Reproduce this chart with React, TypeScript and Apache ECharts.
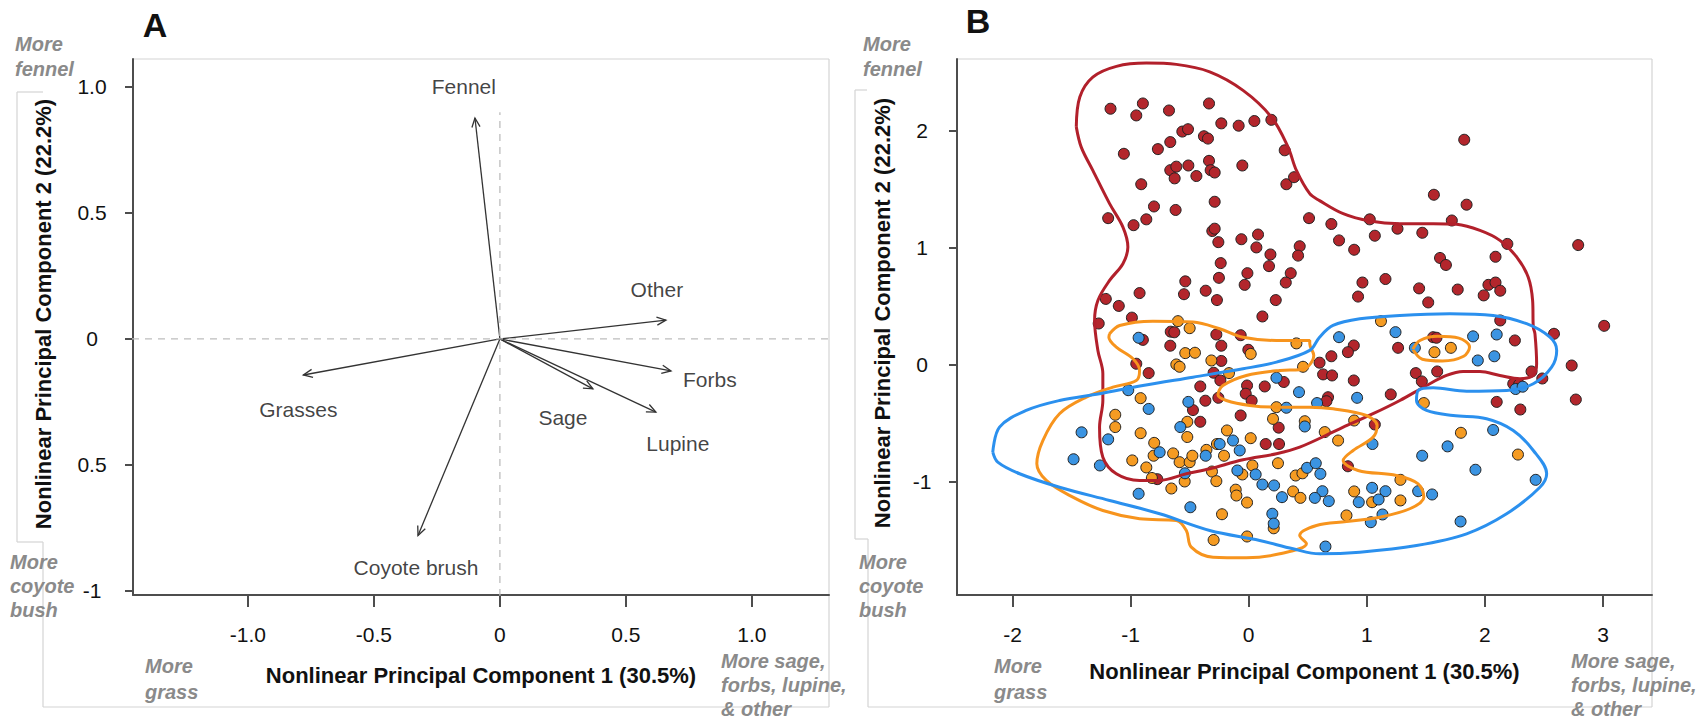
import { useEffect, useRef } from "react";
import * as echarts from "echarts";

const FONT = "'Liberation Sans', Arial, Helvetica, sans-serif";

// ---------- Panel A: loadings ----------
const loadingNames = ["Fennel", "Grasses", "Coyote brush", "Other", "Forbs", "Sage", "Lupine"];
const loadingPC1 = [-0.099, -0.78, -0.325, 0.659, 0.679, 0.369, 0.619];
const loadingPC2 = [0.877, -0.143, -0.78, 0.075, -0.127, -0.198, -0.29];
const labelPC1 = [-0.143, -0.8, -0.333, 0.623, 0.833, 0.25, 0.706];
const labelPC2 = [1.0, -0.278, -0.905, 0.198, -0.159, -0.313, -0.413];

const aXTicks = [-1, -0.5, 0, 0.5, 1];
const aXTickLabels = ["-1.0", "-0.5", "0", "0.5", "1.0"];
const aYTicks = [-1, -0.5, 0, 0.5, 1];
const aYTickLabels = ["-1", "0.5", "0", "0.5", "1.0"];

const bXTicks = [-2, -1, 0, 1, 2, 3];
const bXTickLabels = ["-2", "-1", "0", "1", "2", "3"];
const bYTicks = [-1, 0, 1, 2];
const bYTickLabels = ["-1", "0", "1", "2"];

// ---------- Panel B: site scores ----------
const redPoints: number[][] = [
  [-1.17, 2.185], [-0.896, 2.23], [-0.952, 2.128], [-0.675, 2.17], [-0.336, 2.23], [-0.232, 2.06], [-0.085, 2.04],
  [0.048, 2.08], [0.192, 2.09], [-0.562, 1.99], [-0.514, 2.01], [-0.379, 1.95], [-0.345, 1.93], [-1.057, 1.8],
  [-0.769, 1.84], [-0.664, 1.9], [0.305, 1.83], [-0.664, 1.66], [-0.613, 1.69], [-0.511, 1.7], [-0.336, 1.74],
  [-0.322, 1.66], [-0.288, 1.64], [-0.054, 1.7], [-0.627, 1.59], [-0.443, 1.61], [-0.91, 1.54], [0.319, 1.54],
  [0.384, 1.6], [-0.802, 1.35], [-0.619, 1.32], [-0.288, 1.39], [-1.19, 1.25], [-0.975, 1.19], [-0.867, 1.24],
  [0.511, 1.25], [-0.308, 1.14], [-0.288, 1.16], [-0.257, 1.045], [-0.062, 1.07], [0.079, 1.11], [0.065, 1.0],
  [0.184, 0.94], [0.172, 0.84], [0.432, 1.01], [0.418, 0.93], [-0.237, 0.866], [-0.011, 0.78], [-0.252, 0.74],
  [0.356, 0.78], [-0.537, 0.71], [-0.034, 0.68], [0.314, 0.7], [-0.548, 0.6], [-0.364, 0.63], [-0.269, 0.55],
  [-0.924, 0.61], [-1.21, 0.56], [-1.1, 0.5], [0.229, 0.55], [0.116, 0.41], [-0.989, 0.4], [-1.27, 0.35],
  [1.825, 1.92], [1.568, 1.45], [1.845, 1.365], [0.7, 1.2], [1.025, 1.24], [1.26, 1.16], [1.72, 1.23],
  [0.765, 1.06], [1.068, 1.1], [1.47, 1.125], [0.893, 0.98], [2.19, 1.03], [2.79, 1.02], [2.09, 0.92],
  [1.62, 0.91], [1.67, 0.85], [0.963, 0.7], [1.158, 0.73], [0.926, 0.58], [1.443, 0.65], [1.52, 0.53],
  [1.77, 0.64], [2.03, 0.68], [2.09, 0.7], [1.99, 0.59], [2.13, 0.63], [2.13, 0.376], [3.01, 0.33],
  [-0.66, 0.28], [-0.63, 0.275], [-0.274, 0.256], [-0.068, 0.25], [-0.896, 0.21], [-0.664, 0.16], [-0.232, 0.16],
  [-0.003, 0.125], [-0.232, 0.03], [-0.952, 0.006], [-0.847, -0.074], [-0.297, -0.071], [-0.24, -0.137],
  [0.297, -0.15], [-0.014, -0.18], [0.136, -0.188], [-0.41, -0.188], [-0.025, -0.25], [0.025, -0.31],
  [-0.257, -0.285], [-0.367, -0.31], [-0.472, -0.39], [-0.068, -0.436], [0.254, -0.54], [-0.41, -0.49],
  [0.144, -0.68], [0.257, -0.68], [-0.774, -0.98],
  [0.89, 0.162], [0.84, 0.105], [0.7, 0.07], [0.6, 0.015], [1.265, 0.142], [1.562, 0.233], [1.59, 0.228],
  [2.254, 0.205], [2.585, 0.262], [2.735, -0.009], [2.395, -0.06], [2.486, -0.12], [2.24, -0.165], [2.29, -0.17],
  [2.77, -0.3], [2.1, -0.32], [2.3, -0.385], [1.415, -0.074], [1.596, -0.06], [1.466, -0.145], [0.63, -0.085],
  [0.706, -0.094], [0.89, -0.137], [1.203, -0.256], [0.672, -0.28], [0.658, -0.314], [1.068, -0.513], [0.84, -0.87],
];

const orangePoints: number[][] = [
  [1.12, 0.37], [-0.599, 0.37], [-0.5, 0.31], [0.017, 0.09], [-0.537, 0.097], [-0.455, 0.1], [-0.316, 0.034],
  [0.404, 0.18], [-0.613, 0.0], [-0.585, -0.02], [-0.167, -0.074], [0.46, -0.02], [-0.915, -0.288], [0.235, -0.365],
  [0.206, -0.465], [0.475, -0.485], [-0.52, -0.49], [-1.13, -0.43], [-1.13, -0.535], [-0.915, -0.587], [-0.52, -0.62],
  [-0.184, -0.564], [0.017, -0.63], [-0.8, -0.67], [-0.805, -0.78], [-0.64, -0.76], [-0.585, -0.835], [-0.5, -0.835],
  [-0.477, -0.78], [-0.358, -0.73], [-0.269, -0.68], [-0.209, -0.78], [-0.986, -0.82], [-0.867, -0.88], [-0.82, -0.97],
  [-0.542, -1.0], [-0.655, -1.06], [-0.311, -0.915], [-0.274, -0.997], [-0.054, -0.94], [0.031, -0.863],
  [0.248, -0.844], [0.398, -0.949], [0.455, -0.93], [0.376, -1.085], [0.438, -1.14], [-0.11, -1.07], [-0.104, -1.12],
  [-0.014, -1.18], [-0.226, -1.28], [0.212, -1.4], [-0.014, -1.47], [-0.297, -1.5],
  [1.573, 0.105], [1.712, 0.142], [1.483, -0.33], [0.893, -0.479], [0.644, -0.578], [0.757, -0.65], [1.797, -0.584],
  [2.28, -0.77], [1.285, -0.986], [0.893, -1.085], [1.045, -1.177], [1.285, -1.162], [0.828, -1.29],
];

const bluePoints: number[][] = [
  [-0.932, 0.228], [0.235, -0.114], [0.426, -0.237], [-1.02, -0.22], [-0.847, -0.38], [-0.511, -0.32], [0.319, -0.37],
  [0.475, -0.53], [-0.579, -0.535], [-1.415, -0.58], [-1.19, -0.64], [-0.133, -0.65], [-0.754, -0.75], [-0.364, -0.78],
  [-0.246, -0.68], [-0.076, -0.735], [-1.483, -0.81], [-1.26, -0.863], [-0.54, -0.93], [-0.932, -1.105],
  [-0.096, -0.906], [0.059, -0.94], [0.116, -1.026], [0.215, -1.034], [0.494, -0.883], [0.282, -1.134],
  [-0.494, -1.22], [0.2, -1.276], [0.212, -1.36],
  [1.243, 0.276], [0.765, 0.233], [1.407, 0.142], [1.9, 0.24], [2.1, 0.256], [1.94, 0.034], [2.08, 0.07],
  [2.26, -0.21], [2.32, -0.19], [0.918, -0.285], [0.579, -0.33], [1.048, -0.68], [1.469, -0.78], [1.684, -0.7],
  [2.07, -0.56], [1.92, -0.9], [2.43, -0.986], [0.568, -0.844], [0.607, -0.935], [1.045, -1.054], [1.158, -1.083],
  [1.435, -1.083], [1.553, -1.111], [1.1, -1.154], [0.932, -1.177], [0.624, -1.083], [0.56, -1.14], [0.678, -1.168],
  [1.133, -1.282], [1.034, -1.348], [1.794, -1.342], [0.65, -1.556],
];

// contour outlines (density contours)
const redContour: number[][] = [
  [-1.46, 2.03], [-1.43, 2.285], [-1.32, 2.455], [-1.12, 2.547], [-0.867, 2.575], [-0.613, 2.564], [-0.33, 2.5],
  [-0.048, 2.342], [0.192, 2.114], [0.333, 1.857], [0.404, 1.658], [0.517, 1.459], [0.6, 1.4], [0.8, 1.288],
  [1.025, 1.225], [1.28, 1.203], [1.562, 1.203], [1.76, 1.197], [1.958, 1.145], [2.127, 1.06], [2.27, 0.917],
  [2.367, 0.746], [2.404, 0.547], [2.41, 0.319], [2.424, 0.262], [2.438, 0.006], [2.41, -0.094], [2.297, -0.122],
  [2.127, -0.094], [1.958, -0.06], [1.816, -0.06], [1.675, -0.094], [1.506, -0.18], [1.28, -0.308], [1.053, -0.421],
  [0.771, -0.55], [0.432, -0.707], [0.235, -0.763], [-0.048, -0.815], [-0.33, -0.891], [-0.528, -0.934],
  [-0.754, -0.991], [-0.924, -0.991], [-1.121, -0.934], [-1.235, -0.792], [-1.263, -0.536], [-1.235, -0.308],
  [-1.235, -0.079], [-1.277, 0.12], [-1.305, 0.376], [-1.277, 0.547], [-1.178, 0.718], [-1.065, 0.861],
  [-1.023, 1.003], [-1.065, 1.174], [-1.178, 1.374], [-1.32, 1.658], [-1.418, 1.857], [-1.46, 2.03],
];

const blueContour: number[][] = [
  [-2.167, -0.75], [-2.11, -0.536], [-1.884, -0.393], [-1.602, -0.308], [-1.263, -0.25], [-0.896, -0.18],
  [-0.472, -0.109], [-0.048, -0.037], [0.235, 0.02], [0.517, 0.12], [0.6, 0.233], [0.714, 0.333], [0.941, 0.39],
  [1.28, 0.419], [1.703, 0.433], [2.07, 0.419], [2.353, 0.348], [2.551, 0.233], [2.608, 0.12], [2.565, -0.023],
  [2.41, -0.165], [2.184, -0.222], [1.845, -0.228], [1.562, -0.2], [1.435, -0.222], [1.421, -0.308], [1.506, -0.393],
  [1.731, -0.436], [2.014, -0.464], [2.24, -0.564], [2.41, -0.735], [2.523, -0.934], [2.466, -1.049], [2.184, -1.276],
  [1.845, -1.447], [1.421, -1.547], [0.941, -1.604], [0.6, -1.618], [0.375, -1.575], [0.093, -1.504], [-0.33, -1.419],
  [-0.754, -1.276], [-1.178, -1.162], [-1.602, -1.049], [-1.94, -0.934], [-2.125, -0.835], [-2.167, -0.75],
];

const orangeContour: number[][] = [
  [-1.178, 0.262], [-1.093, 0.333], [-0.811, 0.37], [-0.472, 0.362], [-0.246, 0.305], [-0.048, 0.233], [0.235, 0.205],
  [0.517, 0.205], [0.517, 0.177], [0.551, 0.077], [0.503, -0.017], [0.432, -0.045], [0.263, -0.051], [-0.02, -0.094],
  [-0.218, -0.18], [-0.26, -0.259], [-0.189, -0.308], [0.008, -0.35], [0.235, -0.365], [0.517, -0.365], [0.714, -0.379],
  [0.997, -0.436], [1.087, -0.521], [1.053, -0.621], [0.884, -0.735], [0.8, -0.82], [0.926, -0.906], [1.252, -0.949],
  [1.435, -1.02], [1.483, -1.134], [1.364, -1.233], [1.11, -1.305], [0.828, -1.342], [0.574, -1.376], [0.432, -1.462],
  [0.489, -1.532], [0.263, -1.618], [-0.02, -1.652], [-0.302, -1.647], [-0.486, -1.561], [-0.528, -1.419],
  [-0.613, -1.333], [-0.924, -1.319], [-1.235, -1.248], [-1.489, -1.134], [-1.714, -0.991], [-1.794, -0.849],
  [-1.743, -0.65], [-1.602, -0.421], [-1.375, -0.279], [-1.15, -0.194], [-0.952, -0.137], [-0.924, -0.051],
  [-0.98, 0.049], [-1.121, 0.148], [-1.184, 0.233], [-1.178, 0.262],
];

const orangeSmallContour: number[][] = [
  [1.39, 0.13], [1.45, 0.205], [1.6, 0.24], [1.78, 0.225], [1.87, 0.15], [1.82, 0.07], [1.64, 0.03], [1.47, 0.045],
  [1.39, 0.13],
];

const refLinesA = {
  vertical: [[0, -1.02], [0, 0.9]],
  horizontal: [[-1.46, 0], [1.31, 0]],
};

const pick = (ticks: number[], labels: string[]) => (v: number) => {
  const i = ticks.findIndex((t) => Math.abs(t - v) < 1e-9);
  return i >= 0 ? labels[i] : "";
};

const AXIS_COLOR = "#4d4d4d";
const GRAY = "#8a8a8a";
const FRAME = "#d4d4d4";

function frameLine(x1: number, y1: number, x2: number, y2: number) {
  return { type: "line", shape: { x1, y1, x2, y2 }, style: { stroke: FRAME, lineWidth: 1.2 }, silent: true };
}

function grayText(x: number, y: number, text: string, lineHeight = 25) {
  return {
    type: "text",
    x,
    y,
    style: {
      text,
      fill: GRAY,
      font: `italic bold 20px ${FONT}`,
      lineHeight,
      align: "left",
      textAlign: "left",
      verticalAlign: "top",
      textVerticalAlign: "top",
    },
  };
}

function boldText(x: number, y: number, text: string, size: number, rotation = 0) {
  return {
    type: "text",
    x,
    y,
    rotation,
    style: {
      text,
      fill: "#111",
      font: `bold ${size}px ${FONT}`,
      align: "center",
      textAlign: "center",
      verticalAlign: "middle",
      textVerticalAlign: "middle",
    },
  };
}

function makeXAxis(gridIndex: number, min: number, max: number, ticks: number[], labels: string[], nameGap: number) {
  return {
    gridIndex,
    type: "value",
    min,
    max,
    name: "Nonlinear Principal Component 1 (30.5%)",
    nameLocation: "middle",
    nameGap,
    nameTextStyle: { fontSize: 22, fontWeight: "bold", color: "#111", fontFamily: FONT },
    axisLine: { show: true, onZero: false, lineStyle: { color: AXIS_COLOR, width: 2 } },
    axisTick: { show: true, length: 12, customValues: ticks, lineStyle: { color: AXIS_COLOR, width: 2 } },
    axisLabel: {
      customValues: ticks,
      formatter: pick(ticks, labels),
      fontSize: 21,
      color: "#111",
      fontFamily: FONT,
      margin: 29,
    },
    splitLine: { show: false },
  };
}

function makeYAxis(gridIndex: number, min: number, max: number, ticks: number[], labels: string[], margin: number) {
  return {
    gridIndex,
    type: "value",
    min,
    max,
    axisLine: { show: true, onZero: false, lineStyle: { color: AXIS_COLOR, width: 2 } },
    axisTick: { show: true, length: 8, customValues: ticks, lineStyle: { color: AXIS_COLOR, width: 2 } },
    axisLabel: {
      customValues: ticks,
      formatter: pick(ticks, labels),
      fontSize: 21,
      color: "#111",
      fontFamily: FONT,
      align: "center",
      margin,
    },
    splitLine: { show: false },
  };
}

export default function App() {
  const ref = useRef<HTMLDivElement>(null);

  useEffect(() => {
    if (!ref.current) return;
    const chart = echarts.init(ref.current, undefined, { renderer: "svg" });

    const arrowData = loadingNames.map((n, i) => ({ name: n, value: [loadingPC1[i], loadingPC2[i]] }));
    const labelData = loadingNames.map((n, i) => ({ name: n, value: [labelPC1[i], labelPC2[i]] }));

    const scatterStyle = (color: string) => ({
      type: "scatter",
      xAxisIndex: 1,
      yAxisIndex: 1,
      symbolSize: 11,
      itemStyle: { color, borderColor: "#222", borderWidth: 1, opacity: 1 },
      z: 2,
    });

    const contour = (data: number[][], color: string) => ({
      type: "line",
      xAxisIndex: 1,
      yAxisIndex: 1,
      data,
      symbol: "none",
      smooth: 0.35,
      lineStyle: { color, width: 3 },
      z: 3,
      silent: true,
    });

    const option: any = {
      animation: false,
      backgroundColor: "#fff",
      textStyle: { fontFamily: FONT },
      grid: [
        { left: 133, top: 59, width: 696, height: 536 },
        { left: 957, top: 59, width: 695, height: 536 },
      ],
      xAxis: [
        makeXAxis(0, -1.456, 1.306, aXTicks, aXTickLabels, 69),
        makeXAxis(1, -2.47, 3.415, bXTicks, bXTickLabels, 65),
      ],
      yAxis: [
        makeYAxis(0, -1.016, 1.111, aYTicks, aYTickLabels, 41),
        makeYAxis(1, -1.97, 2.61, bYTicks, bYTickLabels, 35),
      ],
      series: [
        {
          type: "line",
          xAxisIndex: 0,
          yAxisIndex: 0,
          data: refLinesA.vertical,
          symbol: "none",
          lineStyle: { color: "#bdbdbd", width: 1.3, type: [7, 6] },
          silent: true,
        },
        {
          type: "line",
          xAxisIndex: 0,
          yAxisIndex: 0,
          data: refLinesA.horizontal,
          symbol: "none",
          lineStyle: { color: "#bdbdbd", width: 1.3, type: [7, 6] },
          silent: true,
        },
        {
          type: "custom",
          xAxisIndex: 0,
          yAxisIndex: 0,
          data: arrowData,
          renderItem: (params: any, api: any) => {
            const o = api.coord([0, 0]);
            const t = api.coord([api.value(0), api.value(1)]);
            const ang = Math.atan2(t[1] - o[1], t[0] - o[0]);
            const L = 10;
            const spread = 0.42;
            const p1 = [t[0] - L * Math.cos(ang - spread), t[1] - L * Math.sin(ang - spread)];
            const p2 = [t[0] - L * Math.cos(ang + spread), t[1] - L * Math.sin(ang + spread)];
            const st = { stroke: "#333", lineWidth: 1.3, fill: "none" };
            return {
              type: "group",
              children: [
                { type: "line", shape: { x1: o[0], y1: o[1], x2: t[0], y2: t[1] }, style: st },
                { type: "polyline", shape: { points: [p1, t, p2] }, style: st },
              ],
            };
          },
          z: 3,
        },
        {
          type: "scatter",
          xAxisIndex: 0,
          yAxisIndex: 0,
          data: labelData,
          symbolSize: 1,
          itemStyle: { color: "rgba(0,0,0,0)" },
          label: {
            show: true,
            position: "inside",
            formatter: (p: any) => p.name,
            fontSize: 21,
            color: "#111",
            fontFamily: FONT,
          },
          silent: true,
        },
        { ...scatterStyle("#b3262c"), data: redPoints },
        { ...scatterStyle("#f59b22"), data: orangePoints },
        { ...scatterStyle("#3b94e2"), data: bluePoints },
        contour(redContour, "#b2202b"),
        contour(orangeContour, "#f7941d"),
        contour(orangeSmallContour, "#f7941d"),
        contour(blueContour, "#2b90ee"),
      ],
      graphic: [
        // panel A frame remnants
        frameLine(133, 59, 829, 59),
        frameLine(829, 59, 829, 707),
        frameLine(43, 707, 829, 707),
        frameLine(43, 542, 43, 707),
        frameLine(17, 542, 43, 542),
        frameLine(17, 92, 17, 542),
        frameLine(17, 92, 43, 92),
        // panel B frame remnants
        frameLine(957, 59, 1652, 59),
        frameLine(1652, 59, 1652, 707),
        frameLine(868, 707, 1652, 707),
        frameLine(868, 539, 868, 707),
        frameLine(855, 539, 868, 539),
        frameLine(855, 90, 855, 539),
        frameLine(855, 90, 867, 90),
        // panel letters
        boldText(155, 25, "A", 34),
        boldText(978, 21, "B", 34),
        // y titles
        boldText(43, 314, "Nonlinear Principal Component 2 (22.2%)", 22, Math.PI / 2),
        boldText(882, 313, "Nonlinear Principal Component 2 (22.2%)", 22, Math.PI / 2),
        // direction annotations
        grayText(15, 31, "More\nfennel"),
        grayText(10, 550, "More\ncoyote\nbush", 24),
        grayText(145, 653, "More\ngrass", 26),
        grayText(721, 649, "More sage,\nforbs, lupine,\n& other", 24),
        grayText(863, 31, "More\nfennel"),
        grayText(859, 550, "More\ncoyote\nbush", 24),
        grayText(994, 653, "More\ngrass", 26),
        grayText(1571, 649, "More sage,\nforbs, lupine,\n& other", 24),
      ],
    };

    chart.setOption(option);
    return () => chart.dispose();
  }, []);

  return (
    <div
      ref={ref}
      style={{ position: "fixed", left: 0, top: 0, width: 1702, height: 724, background: "#fff" }}
    />
  );
}
